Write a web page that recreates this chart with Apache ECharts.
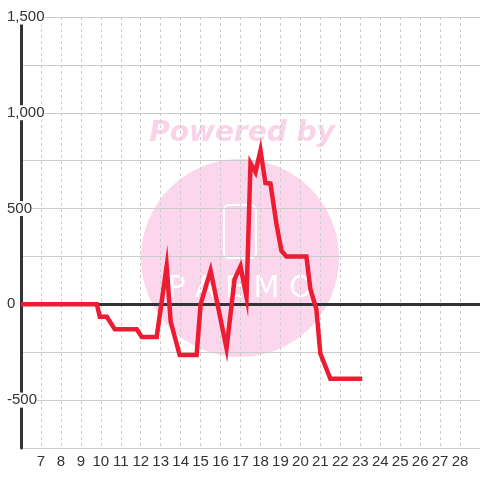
<!DOCTYPE html>
<html>
<head>
<meta charset="utf-8">
<script src="https://cdn.jsdelivr.net/npm/echarts@6/dist/echarts.min.js"></script>
<style>
  html, body { margin: 0; padding: 0; background: #fff; }
  #chart { width: 480px; height: 480px; }
</style>
</head>
<body>
<div id="chart"></div>
<script>
// line data (x position, value)
const xVals = [6, 9.8, 9.95, 10.3, 10.7, 11.8, 12.05, 12.8, 13.3, 13.5, 13.95, 14.8, 15.0, 15.5, 16.3, 16.7, 17.0, 17.3, 17.5, 17.75, 18.0, 18.25, 18.5, 18.8, 19.05, 19.3, 20.3, 20.5, 20.8, 21.0, 21.5, 23.1]
const yVals = [0, 0, -65, -65, -130, -130, -170, -170, 200, -90, -265, -265, 0, 177, -230, 130, 198, 38, 737, 690, 804, 633, 630, 420, 280, 250, 250, 80, -25, -257, -388, -388]

const xMin = 6
const xMax = 29
const yMin = -750
const yMax = 1500

const chart = echarts.init(document.getElementById('chart'))

const option = {
  backgroundColor: '#fff',
  animation: false,
  textStyle: { fontFamily: 'Liberation Sans' },
  grid: { left: 21, right: 0, top: 17, bottom: 32 },
  xAxis: {
    type: 'value',
    min: xMin,
    max: xMax,
    interval: 1,
    axisLine: { show: false },
    axisTick: { show: false },
    axisLabel: {
      color: '#333',
      fontSize: 15,
      margin: 6,
      showMinLabel: false,
      showMaxLabel: false
    },
    splitLine: { lineStyle: { color: '#ccc', type: [3, 3] } }
  },
  yAxis: {
    type: 'value',
    min: yMin,
    max: yMax,
    interval: 250,
    axisLine: { show: true, lineStyle: { color: '#333', width: 3 } },
    axisTick: { show: false },
    axisLabel: {
      color: '#333',
      fontSize: 15,
      margin: 14,
      align: 'left',
      backgroundColor: '#fff',
      showMinLabel: false,
      formatter: v => (v % 500 === 0 ? v.toLocaleString('en-US') : '')
    },
    splitLine: { lineStyle: { color: '#ccc', width: 1 } }
  },
  graphic: [
    {
      type: 'circle',
      shape: { cx: 240, cy: 258, r: 99 },
      style: { fill: '#fbd6ec' },
      z: -10,
      silent: true
    },
    {
      type: 'text',
      x: 242,
      y: 134,
      style: {
        text: 'Powered by',
        fill: '#fbd3e9',
        font: 'italic bold 28px "DejaVu Sans"',
        align: 'center',
        verticalAlign: 'middle'
      },
      z: -10,
      silent: true
    },
    {
      type: 'rect',
      shape: { x: 224, y: 205, width: 32, height: 53, r: 5 },
      style: { fill: 'none', stroke: '#fff', lineWidth: 2 },
      z: -9,
      silent: true
    },
    {
      type: 'text',
      x: 240,
      y: 289,
      style: {
        text: 'P A E M O',
        fill: '#fff',
        font: '30px "DejaVu Sans"',
        align: 'center',
        verticalAlign: 'middle'
      },
      z: -9,
      silent: true
    }
  ],
  series: [
    {
      type: 'line',
      data: [],
      z: 1,
      silent: true,
      markLine: {
        silent: true,
        symbol: 'none',
        label: { show: false },
        lineStyle: { color: '#333', width: 3, type: 'solid' },
        data: [{ yAxis: 0 }]
      }
    },
    {
      type: 'line',
      data: xVals.map((x, i) => [x, yVals[i]]),
      z: 5,
      symbol: 'none',
      lineStyle: { color: '#ee1c33', width: 4.5, join: 'miter' },
      itemStyle: { color: '#ee1c33' }
    }
  ]
}

chart.setOption(option)
</script>
</body>
</html>
